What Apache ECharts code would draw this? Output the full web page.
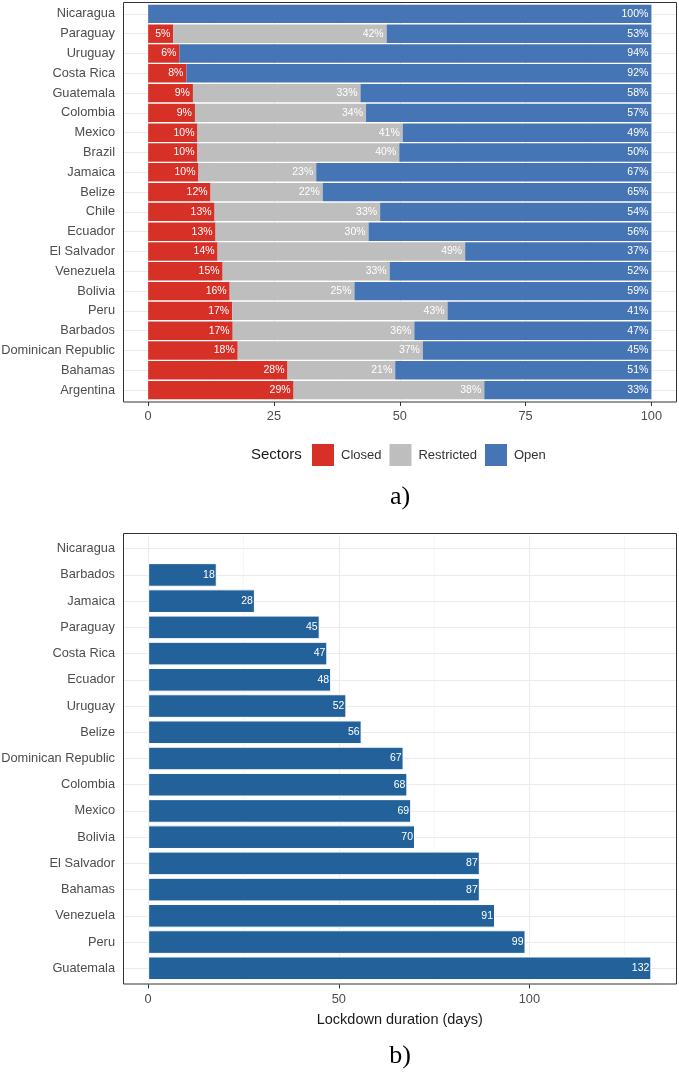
<!DOCTYPE html>
<html>
<head>
<meta charset="utf-8">
<script src="https://cdn.jsdelivr.net/npm/echarts@6/dist/echarts.min.js"></script>
<style>
html,body{margin:0;padding:0;background:#fff;}
#c{width:679px;height:1075px;}
</style>
</head>
<body>
<div id="c"></div>
<script>
// ---------- Data: chart a) ----------
const catsA = ['Nicaragua','Paraguay','Uruguay','Costa Rica','Guatemala','Colombia','Mexico','Brazil','Jamaica','Belize','Chile','Ecuador','El Salvador','Venezuela','Bolivia','Peru','Barbados','Dominican Republic','Bahamas','Argentina'];
const closedPct     = [0, 5.0, 6.2, 7.6, 8.9, 9.3, 9.8, 9.8, 10.0, 12.4, 13.2, 13.4, 13.8, 14.8, 16.2, 16.7, 16.8, 17.8, 27.7, 28.9];
const restrictedPct = [0, 42.4, 0, 0, 33.3, 34.0, 40.8, 40.1, 23.4, 22.3, 32.9, 30.4, 49.2, 33.2, 24.8, 42.8, 36.1, 36.8, 21.4, 37.9];
const openPct       = [100, 52.6, 93.8, 92.4, 57.8, 56.7, 49.4, 50.1, 66.6, 65.3, 53.9, 56.2, 37.0, 52.0, 59.0, 40.5, 47.1, 45.4, 50.9, 33.2];
const sectorNames = ['Closed','Restricted','Open'];
const xTicksA = [0, 25, 50, 75, 100];
const xMinorA = [12.5, 37.5, 62.5, 87.5];

// ---------- Data: chart b) ----------
const catsB = ['Nicaragua','Barbados','Jamaica','Paraguay','Costa Rica','Ecuador','Uruguay','Belize','Dominican Republic','Colombia','Mexico','Bolivia','El Salvador','Bahamas','Venezuela','Peru','Guatemala'];
const lockdownDays = [null, 18, 28, 45, 47, 48, 52, 56, 67, 68, 69, 70, 87, 87, 91, 99, 132];
const xTicksB = [0, 50, 100];
const xMinorB = [25, 75, 125];

// ---------- Style ----------
const FONT = "'Liberation Sans', Arial, sans-serif";
const colClosed = '#d73027', colRestricted = '#bebebe', colOpen = '#4575b4', colDays = '#22619a';
const gridMajor = '#ebebeb', gridMinor = '#f4f4f4';

const chart = echarts.init(document.getElementById('c'), null, {renderer: 'canvas'});

function gridLines(vertMajor, vertMinor, nCats) {
  const data = [];
  vertMinor.forEach(v => data.push({xAxis: v, lineStyle: {color: gridMinor, width: 0.8}}));
  vertMajor.forEach(v => data.push({xAxis: v, lineStyle: {color: gridMajor, width: 1}}));
  for (let i = 0; i < nCats; i++) data.push({yAxis: i, lineStyle: {color: gridMajor, width: 1}});
  return {
    silent: true, symbol: 'none', z: 1, animation: false,
    label: {show: false}, emphasis: {disabled: true},
    lineStyle: {type: 'solid'},
    data: data
  };
}

const pctLabel = {
  show: true, position: 'insideRight', distance: 3,
  color: '#ffffff', fontSize: 10.5, fontFamily: FONT,
  formatter: p => (p.value > 0 ? Math.round(p.value) + '%' : '')
};

const axisLabelStyle = {color: '#4d4d4d', fontSize: 12.8, fontFamily: FONT};

const option = {
  animation: false,
  backgroundColor: '#ffffff',
  textStyle: {fontFamily: FONT},
  grid: [
    {left: 123, width: 553.5, top: 4, height: 396, containLabel: false, outerBoundsMode: 'none'},
    {left: 123, width: 553.5, top: 535.6, height: 445.8, containLabel: false, outerBoundsMode: 'none'}
  ],
  legend: {
    data: sectorNames,
    left: 312, top: 444, padding: 0,
    itemWidth: 22, itemHeight: 22, itemGap: 8,
    icon: 'rect',
    textStyle: {color: '#333333', fontSize: 13, fontFamily: FONT, padding: [0, 0, 0, 2]},
    selectedMode: false
  },
  xAxis: [
    {
      gridIndex: 0, type: 'value', min: -5, max: 105, offset: 2,
      axisLine: {show: false},
      axisTick: {show: true, length: 4, lineStyle: {color: '#333333'}, customValues: xTicksA},
      axisLabel: Object.assign({margin: 8, customValues: xTicksA}, axisLabelStyle),
      splitLine: {show: false}
    },
    {
      gridIndex: 1, type: 'value', min: -6.6, max: 138.6, offset: 3,
      axisLine: {show: false},
      axisTick: {show: true, length: 4, lineStyle: {color: '#333333'}, customValues: xTicksB},
      axisLabel: Object.assign({margin: 9, customValues: xTicksB}, axisLabelStyle),
      splitLine: {show: false},
      name: 'Lockdown duration (days)', nameLocation: 'middle', nameGap: 28,
      nameTextStyle: {color: '#1a1a1a', fontSize: 14.5, fontFamily: FONT}
    }
  ],
  yAxis: [
    {
      gridIndex: 0, type: 'category', data: catsA, inverse: true,
      axisLine: {show: false},
      axisTick: {show: true, alignWithLabel: true, length: 4, lineStyle: {color: '#333333'}},
      axisLabel: Object.assign({margin: 8, interval: 0}, axisLabelStyle),
      splitLine: {show: false}
    },
    {
      gridIndex: 1, type: 'category', data: catsB, inverse: true,
      axisLine: {show: false},
      axisTick: {show: true, alignWithLabel: true, length: 4, lineStyle: {color: '#333333'}},
      axisLabel: Object.assign({margin: 8, interval: 0}, axisLabelStyle),
      splitLine: {show: false}
    }
  ],
  series: [
    {
      name: 'Closed', type: 'bar', stack: 'sec', xAxisIndex: 0, yAxisIndex: 0,
      barWidth: '93%', data: closedPct, itemStyle: {color: colClosed},
      label: pctLabel, z: 2,
      markLine: gridLines(xTicksA, xMinorA, catsA.length)
    },
    {
      name: 'Restricted', type: 'bar', stack: 'sec', xAxisIndex: 0, yAxisIndex: 0,
      barWidth: '93%', data: restrictedPct, itemStyle: {color: colRestricted},
      label: pctLabel, z: 2
    },
    {
      name: 'Open', type: 'bar', stack: 'sec', xAxisIndex: 0, yAxisIndex: 0,
      barWidth: '93%', data: openPct, itemStyle: {color: colOpen},
      label: pctLabel, z: 2
    },
    {
      name: 'Lockdown', type: 'bar', xAxisIndex: 1, yAxisIndex: 1,
      barWidth: '90%', data: lockdownDays,
      itemStyle: {color: colDays, borderColor: '#ffffff', borderWidth: 1},
      label: {
        show: true, position: 'insideRight', distance: 2,
        color: '#ffffff', fontSize: 10.5, fontFamily: FONT,
        formatter: p => (p.value != null ? String(p.value) : '')
      },
      z: 2,
      markLine: gridLines(xTicksB, xMinorB, catsB.length)
    }
  ],
  graphic: [
    {type: 'rect', silent: true, z: 50, shape: {x: 123.5, y: 2.5, width: 553, height: 399.5},
      style: {fill: null, stroke: '#333333', lineWidth: 1}},
    {type: 'rect', silent: true, z: 50, shape: {x: 123.5, y: 533.5, width: 553, height: 450.5},
      style: {fill: null, stroke: '#333333', lineWidth: 1}},
    {type: 'text', silent: true, z: 50, x: 251, y: 455,
      style: {text: 'Sectors', fill: '#1a1a1a', font: '15px ' + FONT, textVerticalAlign: 'middle', textAlign: 'left'}},
    {type: 'text', silent: true, z: 50, x: 400, y: 497,
      style: {text: 'a)', fill: '#000000', font: '26px "Liberation Serif", "Times New Roman", serif', textVerticalAlign: 'middle', textAlign: 'center'}},
    {type: 'text', silent: true, z: 50, x: 400, y: 1056,
      style: {text: 'b)', fill: '#000000', font: '26px "Liberation Serif", "Times New Roman", serif', textVerticalAlign: 'middle', textAlign: 'center'}}
  ]
};

chart.setOption(option);
</script>
</body>
</html>
